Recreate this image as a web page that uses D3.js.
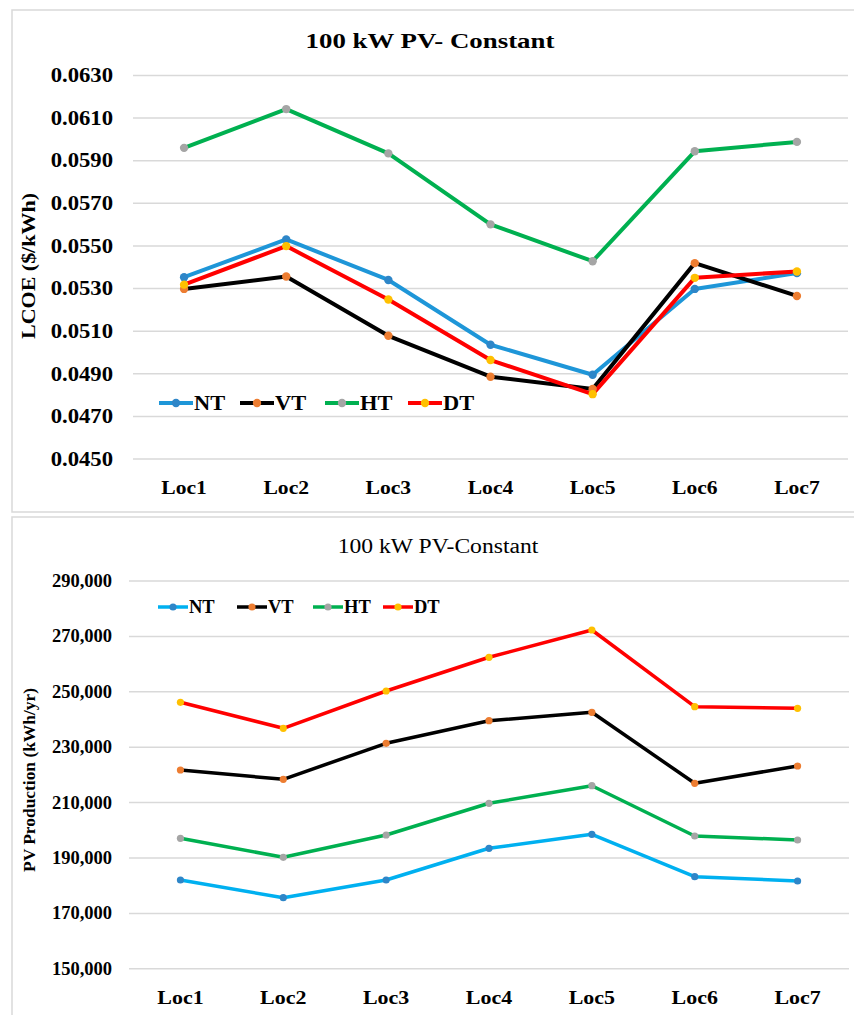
<!DOCTYPE html>
<html><head><meta charset="utf-8">
<script src="https://cdn.jsdelivr.net/npm/d3@7"></script>
<style>body{margin:0;background:#fff}svg{display:block}text{font-family:"Liberation Serif","Times New Roman",serif}</style>
</head><body>
<svg id="c" width="854" height="1015"></svg>
<script>
const categories = ["Loc1","Loc2","Loc3","Loc4","Loc5","Loc6","Loc7"];
const seriesNames = ["NT","VT","HT","DT"];
// LCOE ($/kWh)
const lcoeNT = [0.05351,0.05528,0.05338,0.05034,0.04893,0.05296,0.05370];
const lcoeVT = [0.05296,0.05354,0.05076,0.04884,0.04826,0.05417,0.05263];
const lcoeHT = [0.05958,0.06140,0.05932,0.05599,0.05426,0.05942,0.05986];
const lcoeDT = [0.05316,0.05497,0.05246,0.04962,0.04802,0.05348,0.05378];
const lcoeTicks = [0.0450,0.0470,0.0490,0.0510,0.0530,0.0550,0.0570,0.0590,0.0610,0.0630];
// PV production (kWh/yr)
const pvNT = [181880,175490,181880,193330,198380,183070,181520];
const pvVT = [221590,218230,231230,239390,242420,216790,223040];
const pvHT = [196930,190080,198130,209570,215920,197770,196320];
const pvDT = [246030,236640,250110,262280,272130,244440,243870];
const pvTicks = [150000,170000,190000,210000,230000,250000,270000,290000];

const svg = d3.select("#c");
const lineColTop = {NT:"#1E96D8",VT:"#000000",HT:"#00B050",DT:"#FF0000"};
const lineColBot = {NT:"#00B0F0",VT:"#000000",HT:"#00B050",DT:"#FF0000"};
const markCol = {NT:"#2E86C8",VT:"#ED7D31",HT:"#A5A5A5",DT:"#FFC000"};

function stretch(sel, f){
  sel.each(function(){
    const w = this.getComputedTextLength();
    d3.select(this).attr("textLength", w*f).attr("lengthAdjust","spacingAndGlyphs");
  });
}

// panel borders
svg.append("rect").attr("x",12).attr("y",10).attr("width",850).attr("height",502)
  .attr("fill","none").attr("stroke","#d9d9d9").attr("stroke-width",1.5);
svg.append("rect").attr("x",12).attr("y",517).attr("width",850).attr("height",510)
  .attr("fill","none").attr("stroke","#d9d9d9").attr("stroke-width",1.5);

function panel(cfg){
  const g = svg.append("g");
  const x = d3.scaleBand().domain(categories).range(cfg.xr);
  const y = d3.scaleLinear().domain(cfg.yd).range(cfg.yr);
  const yAxis = d3.axisLeft(y).tickValues(cfg.ticks).tickSize(-(cfg.xr[1]-cfg.xr[0])).tickFormat(cfg.fmt).tickPadding(cfg.pad);
  const ya = g.append("g").attr("transform",`translate(${cfg.xr[0]},0)`).call(yAxis);
  ya.select(".domain").remove();
  ya.selectAll(".tick line").attr("stroke","#d9d9d9").attr("stroke-width",1.5);
  ya.selectAll(".tick text").attr("font-size",cfg.tickFs).attr("font-weight","bold").attr("fill","#000")
    .style("font-family","'Liberation Serif',serif");
  stretch(ya.selectAll(".tick text"), cfg.tickSx);
  const xAxis = d3.axisBottom(x).tickSize(0).tickPadding(0);
  const xa = g.append("g").attr("transform",`translate(0,${cfg.xLabY})`).call(xAxis);
  xa.select(".domain").remove();
  xa.selectAll(".tick text").attr("font-size",cfg.xFs).attr("font-weight","bold").attr("fill","#000")
    .attr("dy","0").style("font-family","'Liberation Serif',serif");
  stretch(xa.selectAll(".tick text"), cfg.xSx);
  // title
  const t = g.append("text").attr("x",cfg.titleX).attr("y",cfg.titleY).attr("text-anchor","middle")
    .attr("font-size",cfg.titleFs).attr("font-weight",cfg.titleW).text(cfg.title);
  stretch(t, cfg.titleSx);
  // y title
  const yt = g.append("text").attr("transform",`translate(${cfg.ytX},${cfg.ytY}) rotate(-90)`).attr("text-anchor","middle")
    .attr("font-size",cfg.ytFs).attr("font-weight","bold").text(cfg.ytitle);
  yt.attr("textLength",cfg.ytLen).attr("lengthAdjust","spacingAndGlyphs");
  const cx = c => x(c)+x.bandwidth()/2;
  const line = d3.line().x((d,i)=>cx(categories[i])).y(d=>y(d));
  cfg.series.forEach(s=>{
    g.append("path").datum(s.values).attr("d",line).attr("fill","none")
      .attr("stroke",cfg.lineCol[s.name]).attr("stroke-width",cfg.lw).attr("stroke-linejoin","round");
  });
  cfg.series.forEach(s=>{
    g.selectAll(null).data(s.values).join("circle").attr("cx",(d,i)=>cx(categories[i])).attr("cy",d=>y(d))
      .attr("r",cfg.mr).attr("fill",markCol[s.name]);
  });
  // legend
  cfg.series.forEach((s,i)=>{
    const lx = cfg.legX[i];
    g.append("line").attr("x1",lx).attr("x2",lx+cfg.legLen).attr("y1",cfg.legY).attr("y2",cfg.legY)
      .attr("stroke",cfg.lineCol[s.name]).attr("stroke-width",cfg.lw);
    g.append("circle").attr("cx",lx+cfg.legLen/2).attr("cy",cfg.legY).attr("r",cfg.mr).attr("fill",markCol[s.name]);
    const lt = g.append("text").attr("x",lx+cfg.legLen+1).attr("y",cfg.legY).attr("dy","0.35em")
      .attr("font-size",cfg.legFs).attr("font-weight","bold").text(s.name);
    stretch(lt, cfg.legSx);
  });
}

panel({
  xr:[133,848], yd:[0.0450,0.0630], yr:[458.5,75], ticks:lcoeTicks, fmt:d3.format(".4f"), pad:20,
  tickFs:21, tickSx:1.08, xLabY:494, xFs:18, xSx:1.2,
  title:"100 kW PV- Constant", titleX:430, titleY:48, titleFs:22, titleW:"bold", titleSx:1.22,
  ytitle:"LCOE ($/kWh)", ytX:35, ytY:266, ytFs:19, ytLen:146, lineCol:lineColTop, lw:4, mr:4.2,
  series:[{name:"NT",values:lcoeNT},{name:"VT",values:lcoeVT},{name:"HT",values:lcoeHT},{name:"DT",values:lcoeDT}],
  legX:[159,240,325,408], legLen:34, legY:403, legFs:20, legSx:1.12
});
panel({
  xr:[129,849], yd:[150000,290000], yr:[968.3,580.5], ticks:pvTicks, fmt:d3.format(","), pad:17,
  tickFs:18.5, tickSx:1.0, xLabY:1004, xFs:18, xSx:1.22,
  title:"100 kW PV-Constant", titleX:438, titleY:553, titleFs:20, titleW:"normal", titleSx:1.18,
  ytitle:"PV Production  (kWh/yr)", ytX:35, ytY:780, ytFs:17, ytLen:184, lineCol:lineColBot, lw:3.5, mr:3.6,
  series:[{name:"NT",values:pvNT},{name:"VT",values:pvVT},{name:"HT",values:pvHT},{name:"DT",values:pvDT}],
  legX:[158,237,313,383], legLen:30, legY:607, legFs:18.5, legSx:1.0
});
</script>
</body></html>
